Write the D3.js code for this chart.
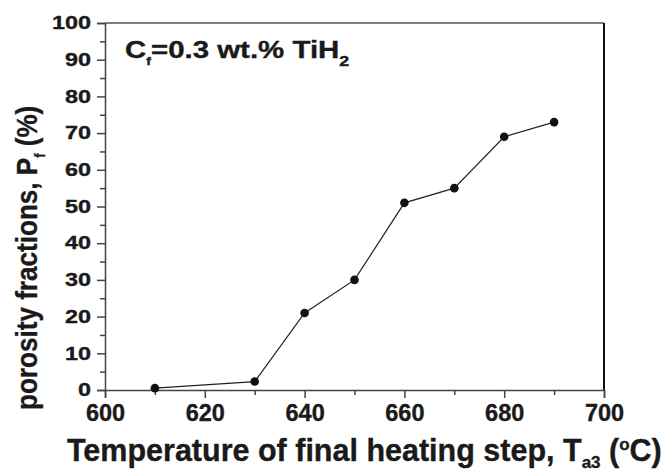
<!DOCTYPE html>
<html><head><meta charset="utf-8">
<script src="https://cdn.jsdelivr.net/npm/d3@7"></script>
<style>body{margin:0;background:#fff}svg{display:block}text{font-family:"Liberation Sans",Arial,sans-serif;font-weight:bold;fill:#1a1a1a;stroke:#1a1a1a;stroke-width:0.35px}</style>
</head><body><svg id="c" width="665" height="471"></svg>
<script>
const temperatures = [610, 630, 640, 650, 660, 670, 680, 690];
const porosity = [0.5, 2.3, 21, 30, 51, 55, 69, 73];
const xTicks = [600, 620, 640, 660, 680, 700];
const yTicks = [0, 10, 20, 30, 40, 50, 60, 70, 80, 90, 100];

const svg = d3.select("#c");
const m = {l:105, r:604, t:23, b:390};
const x = d3.scaleLinear().domain([600,700]).range([m.l, m.r]);
const y = d3.scaleLinear().domain([0,100]).range([m.b, m.t]);

// frame
svg.append("line").attr("x1",m.l).attr("x2",m.r).attr("y1",m.t).attr("y2",m.t).attr("stroke","#555").attr("stroke-width",1.5);
svg.append("line").attr("x1",m.r).attr("x2",m.r).attr("y1",m.t).attr("y2",m.b).attr("stroke","#111").attr("stroke-width",2);

// x axis
const gx = svg.append("g").attr("transform",`translate(0,${m.b})`)
  .call(d3.axisBottom(x).tickValues(xTicks).tickSize(8).tickPadding(6).tickFormat(d3.format("d")));
gx.select(".domain").attr("stroke","#444").attr("stroke-width",1.5);
gx.selectAll(".tick line").attr("stroke","#444").attr("stroke-width",1.5);
gx.selectAll(".tick text").attr("font-size",23.5).attr("fill","#1a1a1a").attr("font-family","Liberation Sans, Arial, sans-serif");
const gxm = svg.append("g").attr("transform",`translate(0,${m.b})`)
  .call(d3.axisBottom(x).tickValues(d3.range(610,700,20)).tickSize(5).tickFormat(""));
gxm.select(".domain").remove();
gxm.selectAll(".tick line").attr("stroke","#444").attr("stroke-width",1.5);

// y axis
const gy = svg.append("g").attr("transform",`translate(${m.l},0)`)
  .call(d3.axisLeft(y).tickValues(yTicks).tickSize(8).tickPadding(6).tickFormat(d3.format("d")));
gy.select(".domain").attr("stroke","#444").attr("stroke-width",1.5);
gy.selectAll(".tick line").attr("stroke","#444").attr("stroke-width",1.5);
gy.selectAll(".tick text").attr("font-size",18).attr("fill","#1a1a1a").attr("font-family","Liberation Sans, Arial, sans-serif")
  .each(function(){
    const t = d3.select(this);
    const xx = +t.attr("x");
    t.attr("x",null).attr("transform",`translate(${xx},0) scale(1.3,1)`);
  });
const gym = svg.append("g").attr("transform",`translate(${m.l},0)`)
  .call(d3.axisLeft(y).tickValues(d3.range(5,100,10)).tickSize(5).tickFormat(""));
gym.select(".domain").remove();
gym.selectAll(".tick line").attr("stroke","#444").attr("stroke-width",1.5);

// data line
const pts = temperatures.map((t,i)=>[t,porosity[i]]);
svg.append("path").datum(pts).attr("fill","none").attr("stroke","#222").attr("stroke-width",1.2)
  .attr("d", d3.line().x(d=>x(d[0])).y(d=>y(d[1])));
svg.selectAll("circle.p").data(pts).enter().append("circle").attr("class","p")
  .attr("cx",d=>x(d[0])).attr("cy",d=>y(d[1])).attr("r",4.3).attr("fill","#111");

// annotation
const ann = svg.append("text").attr("transform","translate(125,58) scale(1.28,1)").attr("font-size",23);
ann.append("tspan").text("C");
ann.append("tspan").attr("font-size",11).attr("dy",7).text("f");
ann.append("tspan").attr("dy",-7).text("=0.3 wt.% TiH");
ann.append("tspan").attr("font-size",14).attr("dy",8).text("2");

// x title
const xt = svg.append("text").attr("x",67).attr("y",461).attr("font-size",30.5);
xt.append("tspan").text("Temperature of final heating step, T");
xt.append("tspan").attr("font-size",17).attr("dy",7).text("a3");
xt.append("tspan").attr("dy",-7).text(" (");
xt.append("tspan").attr("font-size",17).attr("dy",-11).text("o");
xt.append("tspan").attr("dy",11).text("C)");

// y title
const yt = svg.append("text").attr("transform","translate(37,410) rotate(-90) scale(0.9,1)").attr("font-size",29);
yt.append("tspan").text("porosity fractions, P");
yt.append("tspan").attr("font-size",14).attr("dy",8).text("f");
yt.append("tspan").attr("dy",-8).text(" (%)");
</script></body></html>
